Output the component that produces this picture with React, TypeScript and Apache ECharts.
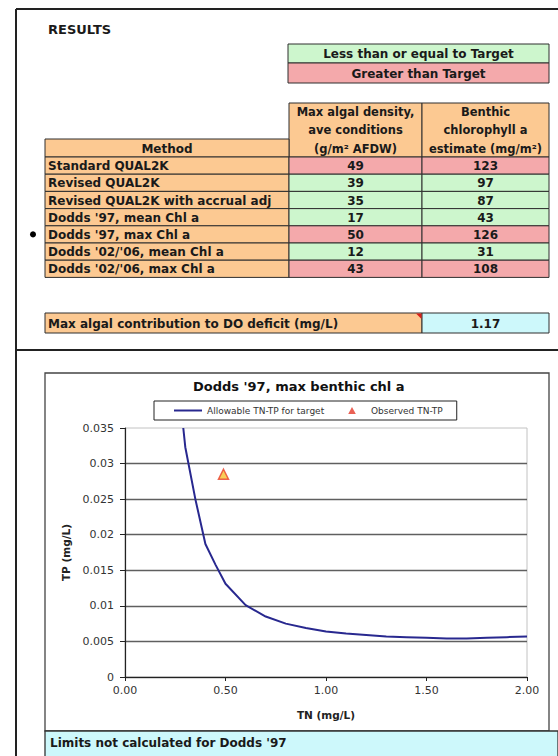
import React, { useEffect, useRef } from "react";
import * as echarts from "echarts";

// ---------- data ----------
const methods = [
  "Standard QUAL2K",
  "Revised QUAL2K",
  "Revised QUAL2K with accrual adj",
  "Dodds '97, mean Chl a",
  "Dodds '97, max Chl a",
  "Dodds '02/'06, mean Chl a",
  "Dodds '02/'06, max Chl a",
];
const algalDensity = [49, 39, 35, 17, 50, 12, 43];
const benthicChl = [123, 97, 87, 43, 126, 31, 108];
const chlTarget = 100;
const selectedMethod = 4;
const doDeficit = "1.17";

const curveTN = [0.29, 0.3, 0.35, 0.4, 0.45, 0.5, 0.6, 0.7, 0.8, 0.9, 1.0, 1.1, 1.2, 1.3, 1.4, 1.5, 1.6, 1.7, 1.8, 1.9, 2.0];
const curveTP = [0.035, 0.0323, 0.025, 0.0187, 0.0158, 0.0131, 0.0101, 0.0085, 0.0075, 0.0069, 0.0064, 0.0061, 0.0059, 0.0057, 0.0056, 0.0055, 0.0054, 0.0054, 0.0055, 0.0056, 0.0057];
const observedTN = [0.49];
const observedTP = [0.0285];

const chartTitle = "Dodds '97, max benthic chl a";
const lineName = "Allowable TN-TP for target";
const obsName = "Observed TN-TP";
const footerNote = "Limits not calculated for Dodds '97";

// ---------- style ----------
const FONT = '"DejaVu Sans", Verdana, sans-serif';
const ORANGE = "#fcc992";
const GREEN = "#cdf6cd";
const PINK = "#f4a9ab";
const CYAN = "#cdf8fb";
const BORDER = "#2e2e2e";
const TXT = "#1a1a1a";
const NAVY = "#28288f";

function rect(x: number, y: number, w: number, h: number, fill: string, stroke = BORDER, lw = 1) {
  return { type: "rect", shape: { x, y, width: w, height: h }, style: { fill, stroke, lineWidth: lw }, z: 10 };
}
function line(x1: number, y1: number, x2: number, y2: number, stroke: string, lw: number) {
  return { type: "line", shape: { x1, y1, x2, y2 }, style: { stroke, lineWidth: lw }, z: 10 };
}
function text(x: number, y: number, t: string, align = "left", size = 12, weight = "bold") {
  return {
    type: "text",
    x,
    y,
    z: 11,
    style: {
      text: t,
      fill: TXT,
      fontFamily: FONT,
      fontSize: size,
      fontWeight: weight,
      textAlign: align,
      textVerticalAlign: "middle",
    },
  };
}

function buildGraphics() {
  const els: any[] = [];
  const colX = [45, 289, 422, 549];
  const c1 = (colX[0] + colX[1]) / 2;
  const c2 = (colX[1] + colX[2]) / 2;
  const c3 = (colX[2] + colX[3]) / 2;

  // frame
  els.push(line(16, 9, 558, 9, "#222", 2));
  els.push(line(16, 9, 16, 756, "#222", 2));
  els.push(line(16, 350, 558, 350, "#222", 2));

  els.push(text(48, 29, "RESULTS", "left", 13));

  // colour key
  const keyX = 288;
  els.push(rect(keyX, 44, colX[3] - keyX, 19, GREEN));
  els.push(text((keyX + colX[3]) / 2, 54, "Less than or equal to Target", "center"));
  els.push(rect(keyX, 63, colX[3] - keyX, 20, PINK));
  els.push(text((keyX + colX[3]) / 2, 73.5, "Greater than Target", "center"));

  // header
  const headTop = 103;
  const rowTop = 157;
  const rowH = 17.2;
  els.push(rect(colX[1], headTop, colX[2] - colX[1], rowTop - headTop, ORANGE));
  els.push(rect(colX[2], headTop, colX[3] - colX[2], rowTop - headTop, ORANGE));
  els.push(rect(colX[0], 139, colX[1] - colX[0], rowTop - 139, ORANGE));
  els.push(text(c1, 148.5, "Method", "center"));
  const h2 = ["Max algal density,", "ave conditions", "(g/m\u00b2 AFDW)"];
  const h3 = ["Benthic", "chlorophyll a", "estimate (mg/m\u00b2)"];
  const hy = [112, 130, 148.5];
  h2.forEach((t, i) => els.push(text(c2, hy[i], t, "center", 11.5)));
  h3.forEach((t, i) => els.push(text(c3, hy[i], t, "center", 11.5)));

  // rows
  methods.forEach((m, i) => {
    const y = rowTop + i * rowH;
    const fill = benthicChl[i] > chlTarget ? PINK : GREEN;
    els.push(rect(colX[0], y, colX[1] - colX[0], rowH, ORANGE));
    els.push(rect(colX[1], y, colX[2] - colX[1], rowH, fill));
    els.push(rect(colX[2], y, colX[3] - colX[2], rowH, fill));
    const cy = y + rowH / 2 + 0.5;
    els.push(text(48, cy, m));
    els.push(text(c2, cy, String(algalDensity[i]), "center"));
    els.push(text(c3, cy, String(benthicChl[i]), "center"));
    if (i === selectedMethod) {
      els.push({ type: "circle", shape: { cx: 33, cy: cy - 0.5, r: 3 }, style: { fill: "#000" }, z: 11 });
    }
  });

  // DO deficit row
  els.push(rect(colX[0], 313, colX[2] - colX[0], 20, ORANGE));
  els.push(rect(colX[2], 313, colX[3] - colX[2], 20, CYAN));
  els.push({
    type: "polygon",
    shape: { points: [[colX[2] - 6, 313.5], [colX[2] - 0.5, 313.5], [colX[2] - 0.5, 319]] },
    style: { fill: "#d8201c" },
    z: 12,
  });
  els.push(text(48, 323.5, "Max algal contribution to DO deficit (mg/L)"));
  els.push(text(c3, 323.5, doDeficit, "center"));

  // chart box
  els.push({ type: "rect", shape: { x: 45, y: 373, width: 504, height: 358 }, style: { fill: "none", stroke: "#444", lineWidth: 1.3 }, z: 10 });
  // footer note
  els.push(rect(45, 731, 513, 26, CYAN, "#333", 1.3));
  els.push(text(50, 743, footerNote));
  return els;
}

const option: any = {
  animation: false,
  backgroundColor: "#ffffff",
  title: {
    text: chartTitle,
    left: 193,
    top: 380,
    padding: 0,
    textStyle: { fontFamily: FONT, fontSize: 13, fontWeight: "bold", color: "#111" },
  },
  legend: {
    left: 154,
    top: 401,
    orient: "horizontal",
    padding: [5, 14, 5, 20],
    itemGap: 24,
    itemWidth: 28,
    itemHeight: 7,
    symbolKeepAspect: true,
    borderColor: "#222",
    borderWidth: 1,
    backgroundColor: "#fff",
    selectedMode: false,
    textStyle: { fontFamily: FONT, fontSize: 9, color: "#333" },
    data: [
      { name: lineName, icon: "path://M0,0L28,0L28,2L0,2Z", itemStyle: { color: NAVY, borderWidth: 0 } },
      { name: obsName, icon: "path://M3,0L6,5.5L0,5.5Z", itemStyle: { color: "#e53a2a", borderWidth: 0 } },
    ],
  },
  grid: {
    left: 125,
    top: 428,
    width: 402,
    height: 249,
    show: true,
    borderColor: "#c2c2c2",
    borderWidth: 1,
    backgroundColor: "#fff",
  },
  xAxis: {
    type: "value",
    min: 0,
    max: 2,
    interval: 0.5,
    name: "TN (mg/L)",
    nameLocation: "middle",
    nameGap: 32,
    nameTextStyle: { fontFamily: FONT, fontSize: 10.5, fontWeight: "bold", color: "#222" },
    axisLine: { show: true, onZero: false, lineStyle: { color: "#222", width: 1.2 } },
    axisTick: { show: true, length: 4, lineStyle: { color: "#222" } },
    axisLabel: { fontFamily: FONT, fontSize: 11, color: "#333", margin: 8, formatter: (v: number) => v.toFixed(2) },
    splitLine: { show: false },
  },
  yAxis: {
    type: "value",
    min: 0,
    max: 0.035,
    interval: 0.005,
    name: "TP (mg/L)",
    nameLocation: "middle",
    nameGap: 54,
    nameRotate: 90,
    nameTextStyle: { fontFamily: FONT, fontSize: 10.5, fontWeight: "bold", color: "#222" },
    axisLine: { show: true, lineStyle: { color: "#222", width: 1.2 } },
    axisTick: { show: true, length: 5, lineStyle: { color: "#222" } },
    axisLabel: {
      fontFamily: FONT,
      fontSize: 11,
      color: "#333",
      margin: 11,
      formatter: (v: number) => String(parseFloat(v.toFixed(3))),
    },
    splitLine: { show: true, showMaxLine: false, lineStyle: { color: "#5f5f5f", width: 1.3 } },
  },
  series: [
    {
      name: lineName,
      type: "line",
      data: curveTN.map((x, i) => [x, curveTP[i]]),
      symbol: "none",
      smooth: false,
      lineStyle: { color: NAVY, width: 2 },
      itemStyle: { color: NAVY },
      z: 3,
    },
    {
      name: obsName,
      type: "scatter",
      data: observedTN.map((x, i) => [x, observedTP[i]]),
      symbol: "triangle",
      symbolSize: 10,
      itemStyle: { color: "#f8c02e", borderColor: "#e8402a", borderWidth: 1.5 },
      z: 4,
    },
  ],
  graphic: { elements: buildGraphics() },
};

export default function App() {
  const ref = useRef<HTMLDivElement>(null);
  useEffect(() => {
    document.body.style.margin = "0";
    const chart = echarts.init(ref.current!, null, { renderer: "svg" });
    chart.setOption(option);
    return () => chart.dispose();
  }, []);
  return (
    <div
      ref={ref}
      style={{ position: "absolute", left: 0, top: 0, width: 558, height: 756, background: "#fff" }}
    />
  );
}
